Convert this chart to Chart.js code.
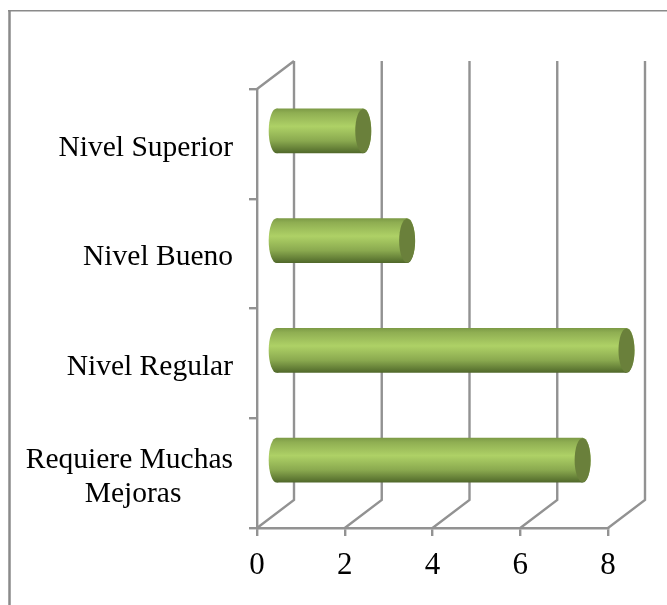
<!DOCTYPE html>
<html>
<head>
<meta charset="utf-8">
<script src="https://cdn.jsdelivr.net/npm/chart.js@4"></script>
<style>
html, body { margin: 0; padding: 0; background: #fff; }
canvas { display: block; }
</style>
</head>
<body>
<canvas id="chart" width="667" height="605"></canvas>
<script>
// trailing spaces keep "Mejoras" roughly centred under the first line
const categories = ["Nivel Superior", "Nivel Bueno", "Nivel Regular", ["Requiere Muchas", "Mejoras       "]]
const values = [2, 3, 8, 7]
const tickValues = [0, 2, 4, 6, 8]

const GRID = "#929292"
const depthX = 37
const depthY = 28
const shiftX = 18.5
const shiftY = 13
const capW = 8

function barGradient(ctx, y, h) {
    const g = ctx.createLinearGradient(0, y - h / 2, 0, y + h / 2)
    g.addColorStop(0, "#7b9945")
    g.addColorStop(0.1, "#8fae52")
    g.addColorStop(0.4, "#aed166")
    g.addColorStop(0.72, "#8aa94f")
    g.addColorStop(0.93, "#5e7833")
    g.addColorStop(1, "#4f6629")
    return g
}

// back wall and floor of the 3d box
const box3d = {
    id: "box3d",
    beforeDatasetsDraw(chart) {
        const c = chart.ctx
        const x = chart.scales.x
        const top = chart.chartArea.top
        const bottom = chart.chartArea.bottom
        c.save()
        c.strokeStyle = GRID
        c.lineWidth = 2.4
        c.beginPath()
        tickValues.forEach(function(v) {
            const px = x.getPixelForValue(v)
            c.moveTo(px, bottom)
            c.lineTo(px + depthX, bottom - depthY)
            c.lineTo(px + depthX, top - depthY)
        })
        const left = x.getPixelForValue(0)
        c.moveTo(left, top)
        c.lineTo(left + depthX, top - depthY)
        c.stroke()
        c.restore()
    }
}

// cylinder ends, the body is the normal bar moved to the middle of the depth
const cylinder = {
    id: "cylinder",
    beforeDatasetDraw(chart) {
        const c = chart.ctx
        c.save()
        c.translate(shiftX, -shiftY)
        chart.getDatasetMeta(0).data.forEach(function(bar) {
            c.fillStyle = barGradient(c, bar.y, bar.height)
            c.beginPath()
            c.ellipse(bar.base, bar.y, capW, bar.height / 2, 0, 0, Math.PI * 2)
            c.fill()
        })
    },
    afterDatasetDraw(chart) {
        const c = chart.ctx
        chart.getDatasetMeta(0).data.forEach(function(bar) {
            c.fillStyle = barGradient(c, bar.y, bar.height)
            c.beginPath()
            c.ellipse(bar.x, bar.y, capW, bar.height / 2, 0, 0, Math.PI * 2)
            c.fill()
            c.fillStyle = "#6a803b"
            c.beginPath()
            c.ellipse(bar.x, bar.y, capW, bar.height / 2 - 0.5, 0, 0, Math.PI * 2)
            c.fill()
        })
        c.restore()
    }
}

// outer frame of the picture, only top and left are inside the crop
const frame = {
    id: "frame",
    afterDraw(chart) {
        const c = chart.ctx
        c.save()
        c.strokeStyle = "#8a8a8a"
        c.lineWidth = 1.5
        c.beginPath()
        c.moveTo(8, 10.7)
        c.lineTo(667, 10.7)
        c.stroke()
        c.lineWidth = 2.5
        c.beginPath()
        c.moveTo(9.5, 10)
        c.lineTo(9.5, 605)
        c.stroke()
        c.restore()
    }
}

new Chart("chart", {
    type: "bar",
    data: {
        labels: categories,
        datasets: [{
            data: values,
            clip: false,
            categoryPercentage: 1,
            barPercentage: 0.41,
            borderWidth: 0,
            backgroundColor: function(context) {
                const chart = context.chart
                if (context.dataIndex === undefined || !chart.scales.y) return "#8bab4e"
                const py = chart.scales.y.getPixelForValue(context.dataIndex)
                if (!isFinite(py)) return "#8bab4e"
                return barGradient(chart.ctx, py, 45)
            }
        }]
    },
    options: {
        indexAxis: "y",
        responsive: false,
        animation: false,
        layout: { padding: { top: 89, right: 59, bottom: 0, left: 0 } },
        plugins: { legend: { display: false }, tooltip: { enabled: false } },
        scales: {
            x: {
                min: 0,
                max: 8,
                afterBuildTicks(axis) { axis.ticks = tickValues.map(function(v) { return { value: v } }) },
                grid: { drawOnChartArea: false, color: GRID, lineWidth: 2.4, tickLength: 8 },
                border: { color: GRID, width: 2.4 },
                ticks: { color: "#000", maxRotation: 0, padding: 11, font: { family: "Liberation Serif", size: 31 } },
                afterFit(axis) { axis.height = 77 }
            },
            y: {
                grid: { drawOnChartArea: false, color: GRID, lineWidth: 2.4, tickLength: 8 },
                border: { color: GRID, width: 2.4 },
                ticks: { color: "#000", padding: 16, labelOffset: 4, font: { family: "Liberation Serif", size: 29.5, lineHeight: 1.13 } },
                afterFit(axis) { axis.width = 257 }
            }
        }
    },
    plugins: [box3d, cylinder, frame]
})
</script>
</body>
</html>
